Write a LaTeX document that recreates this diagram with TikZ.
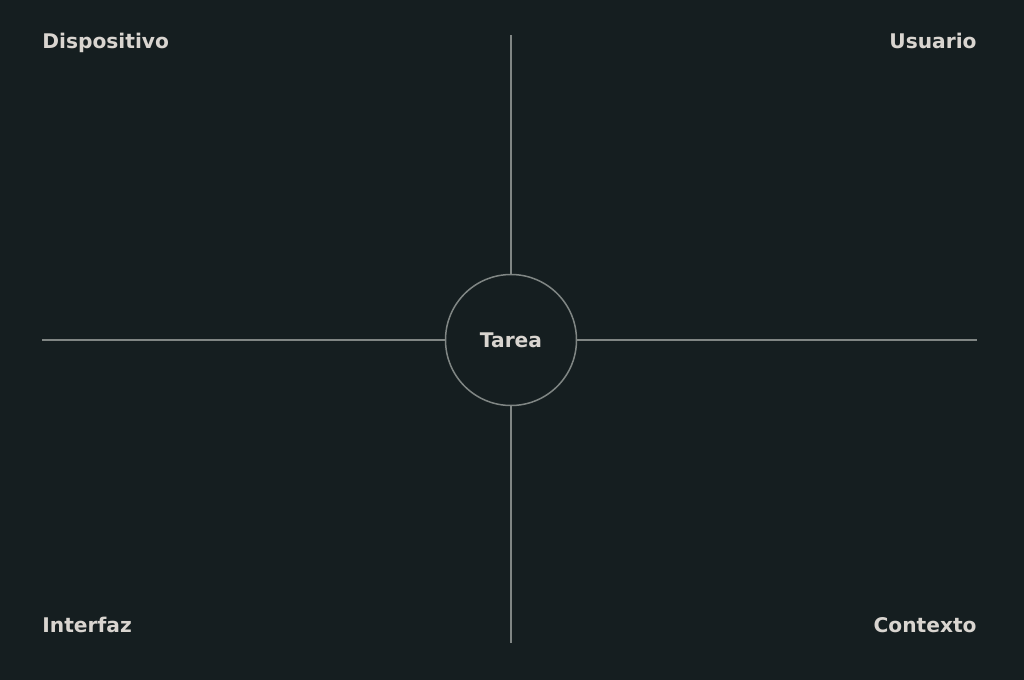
\documentclass[tikz,border=0pt]{standalone}
\usepackage{fontspec}
\setmainfont{DejaVu Sans}
\usetikzlibrary{positioning}
\definecolor{bgdark}{HTML}{151E20}
\definecolor{axisgray}{HTML}{808684}
\definecolor{labelgray}{HTML}{D9D5D0}
\newlength{\labelsize}
\setlength{\labelsize}{10.1pt}
\tikzset{
  corner/.style={text=labelgray, inner sep=0pt, font=\fontsize{\labelsize}{13pt}\selectfont\bfseries},
  axis/.style={draw=axisgray, line width=0.75pt}
}

\begin{document}
\begin{tikzpicture}[x=0.5pt, y=-0.5pt]
  \tikzstyle{tasknode}=[
       circle,
       axis,
       minimum size=65.5pt,
       inner sep=0pt,
       text=labelgray,
       font=\fontsize{\labelsize}{13pt}\selectfont\bfseries]
  \fill[bgdark] (0,0) rectangle (1024,680);
  \useasboundingbox (0,0) rectangle (1024,680);

  % centre
  \node[tasknode] (tarea) at (511,340) {Tarea};

  % axis ends
  \coordinate (top) at (511,35);
  \coordinate (bottom) at (511,643);
  \coordinate (left) at (42,340);
  \coordinate (right) at (977,340);

  \draw[axis] (tarea.north) -- (top);
  \draw[axis] (tarea.south) -- (bottom);
  \draw[axis] (tarea.west) -- (left);
  \draw[axis] (tarea.east) -- (right);

  % corner labels
  \node[corner, anchor=base west] (dispositivo) at (42,48) {Dispositivo};
  \node[corner, anchor=base east] (usuario) at (977,48) {Usuario};
  \node[corner, anchor=base west] (interfaz) at (42,632) {Interfaz};
  \node[corner, anchor=base east] (contexto) at (977,632) {Contexto};
\end{tikzpicture}
\end{document}
